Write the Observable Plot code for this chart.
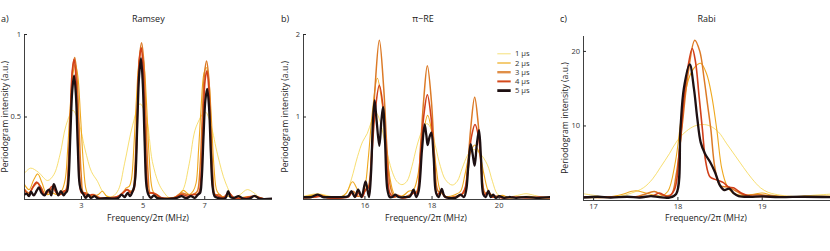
<!DOCTYPE html>
<html><head><meta charset="utf-8">
<script src="https://cdn.jsdelivr.net/npm/d3@7"></script>
<script src="https://cdn.jsdelivr.net/npm/@observablehq/plot@0.6"></script>
<style>
body{margin:0;background:#fff;}
#wrap{position:relative;width:830px;height:251px;font-family:"Open Sans",sans-serif;}
#wrap > svg{position:absolute;top:0;}
</style></head><body><div id="wrap"></div>
<script>
// ---- series labels ----
const seriesLabels = ["1 μs", "2 μs", "3 μs", "4 μs", "5 μs"];

// ---- Panel a: Ramsey  [frequency MHz, intensity a.u.] ----
const ramsey1 = [[1.15,0.16],[1.35,0.19],[1.6,0.165],[1.9,0.115],[2.1,0.15],[2.3,0.27],[2.5,0.45],[2.72,0.54],[2.92,0.46],[3.12,0.3],[3.32,0.17],[3.52,0.11],[3.68,0.05],[3.85,0.02],[4.02,0.02],[4.2,0.06],[4.4,0.22],[4.66,0.45],[4.9,0.58],[5.1,0.5],[5.3,0.23],[5.5,0.1],[5.65,0.05],[5.85,0.01],[6.1,0.01],[6.3,0.06],[6.5,0.22],[6.72,0.44],[7.02,0.53],[7.2,0.45],[7.42,0.27],[7.68,0.1],[7.95,0.01],[8.15,0.03],[8.38,0.06],[8.6,0.04],[8.8,0.01],[9.2,0.005]];
const ramsey2 = [[1.15,0.09],[1.3,0.06],[1.45,0.12],[1.58,0.155],[1.72,0.1],[1.88,0.03],[2.05,0.04],[2.2,0.03],[2.35,0.05],[2.47,0.12],[2.55,0.3],[2.63,0.55],[2.72,0.76],[2.8,0.82],[2.88,0.75],[2.97,0.5],[3.06,0.22],[3.15,0.06],[3.25,0.02],[3.4,0.02],[3.55,0.03],[3.68,0.05],[3.82,0.02],[4.1,0.01],[4.3,0.03],[4.45,0.07],[4.55,0.08],[4.62,0.12],[4.7,0.32],[4.78,0.6],[4.87,0.84],[4.95,0.9],[5.03,0.82],[5.12,0.55],[5.2,0.25],[5.3,0.06],[5.42,0.02],[5.6,0.01],[5.85,0.01],[6.1,0.02],[6.3,0.055],[6.5,0.03],[6.62,0.05],[6.72,0.1],[6.8,0.3],[6.88,0.55],[6.97,0.76],[7.05,0.8],[7.13,0.73],[7.22,0.48],[7.3,0.2],[7.4,0.05],[7.55,0.02],[7.8,0.02],[8.1,0.01],[8.5,0.02],[8.9,0.005],[9.2,0.005]];
const ramsey3 = [[1.15,0.06],[1.3,0.04],[1.45,0.08],[1.57,0.1],[1.7,0.07],[1.82,0.03],[1.95,0.05],[2.1,0.07],[2.25,0.03],[2.4,0.04],[2.5,0.06],[2.57,0.2],[2.64,0.5],[2.71,0.78],[2.78,0.86],[2.85,0.75],[2.92,0.45],[2.99,0.15],[3.06,0.04],[3.15,0.04],[3.27,0.02],[3.4,0.03],[3.6,0.01],[3.9,0.01],[4.2,0.02],[4.38,0.05],[4.48,0.06],[4.6,0.05],[4.67,0.06],[4.74,0.22],[4.81,0.55],[4.88,0.86],[4.95,0.95],[5.02,0.84],[5.09,0.5],[5.16,0.16],[5.23,0.04],[5.32,0.04],[5.45,0.03],[5.6,0.01],[6.0,0.01],[6.25,0.04],[6.42,0.03],[6.6,0.03],[6.72,0.04],[6.78,0.06],[6.85,0.2],[6.92,0.5],[6.99,0.76],[7.06,0.84],[7.13,0.74],[7.2,0.45],[7.27,0.14],[7.34,0.03],[7.47,0.03],[7.62,0.01],[7.78,0.04],[7.95,0.01],[8.3,0.01],[8.6,0.02],[8.9,0.005],[9.2,0.005]];
const ramsey4 = [[1.15,0.06],[1.28,0.03],[1.42,0.075],[1.55,0.105],[1.68,0.07],[1.8,0.03],[1.92,0.05],[2.05,0.08],[2.18,0.04],[2.3,0.03],[2.42,0.05],[2.52,0.06],[2.58,0.18],[2.64,0.5],[2.7,0.78],[2.76,0.85],[2.82,0.74],[2.88,0.42],[2.94,0.12],[3.0,0.04],[3.1,0.04],[3.2,0.02],[3.35,0.03],[3.55,0.01],[3.9,0.01],[4.2,0.02],[4.35,0.04],[4.48,0.06],[4.6,0.04],[4.7,0.06],[4.76,0.2],[4.82,0.55],[4.88,0.85],[4.94,0.92],[5.0,0.8],[5.06,0.45],[5.12,0.13],[5.18,0.04],[5.28,0.04],[5.42,0.03],[5.6,0.01],[6.0,0.01],[6.25,0.03],[6.45,0.02],[6.65,0.03],[6.76,0.03],[6.83,0.05],[6.89,0.18],[6.95,0.48],[7.01,0.72],[7.07,0.78],[7.13,0.68],[7.19,0.38],[7.25,0.1],[7.31,0.03],[7.45,0.02],[7.6,0.01],[7.78,0.04],[7.95,0.01],[8.3,0.01],[8.6,0.02],[8.9,0.005],[9.2,0.005]];
const ramsey5 = [[1.15,0.03],[1.22,0.035],[1.3,0.02],[1.36,0.047],[1.45,0.025],[1.55,0.055],[1.62,0.073],[1.7,0.04],[1.8,0.025],[1.88,0.05],[1.95,0.06],[2.02,0.025],[2.1,0.093],[2.18,0.055],[2.25,0.025],[2.33,0.05],[2.42,0.025],[2.48,0.04],[2.53,0.05],[2.58,0.12],[2.64,0.4],[2.7,0.66],[2.76,0.75],[2.82,0.63],[2.88,0.32],[2.94,0.09],[3.0,0.05],[3.07,0.03],[3.14,0.01],[3.22,0.03],[3.3,0.01],[3.42,0.02],[3.55,0.005],[3.8,0.008],[4.05,0.005],[4.2,0.01],[4.3,0.03],[4.4,0.015],[4.5,0.04],[4.58,0.02],[4.65,0.045],[4.7,0.07],[4.75,0.14],[4.81,0.45],[4.87,0.75],[4.93,0.855],[4.99,0.7],[5.05,0.35],[5.11,0.08],[5.17,0.03],[5.25,0.01],[5.35,0.025],[5.45,0.01],[5.6,0.005],[5.9,0.005],[6.1,0.01],[6.25,0.02],[6.4,0.008],[6.55,0.02],[6.68,0.01],[6.78,0.03],[6.85,0.04],[6.9,0.12],[6.96,0.38],[7.02,0.6],[7.08,0.67],[7.14,0.56],[7.2,0.28],[7.26,0.07],[7.32,0.02],[7.42,0.01],[7.55,0.005],[7.68,0.01],[7.76,0.05],[7.84,0.015],[7.95,0.01],[8.1,0.02],[8.25,0.005],[8.45,0.005],[8.62,0.022],[8.78,0.005],[9.2,0.005]];

// ---- Panel b: pi-RE ----
const piRE1 = [[14.17,0.04],[14.4,0.06],[14.6,0.07],[14.85,0.05],[15.1,0.03],[15.3,0.04],[15.45,0.08],[15.6,0.25],[15.78,0.52],[15.93,0.7],[16.07,0.8],[16.2,0.95],[16.33,1.05],[16.45,0.95],[16.57,0.74],[16.7,0.5],[16.82,0.33],[16.95,0.22],[17.1,0.18],[17.25,0.22],[17.4,0.4],[17.55,0.65],[17.7,0.83],[17.85,0.92],[17.98,0.85],[18.1,0.65],[18.25,0.4],[18.4,0.24],[18.6,0.175],[18.75,0.22],[18.9,0.38],[19.05,0.53],[19.18,0.6],[19.3,0.6],[19.45,0.55],[19.65,0.42],[19.8,0.22],[19.94,0.07],[20.1,0.03],[20.3,0.03],[20.55,0.05],[20.8,0.07],[21.05,0.05],[21.3,0.03],[21.53,0.03]];
const piRE2 = [[14.17,0.03],[14.4,0.05],[14.6,0.06],[14.85,0.04],[15.1,0.02],[15.3,0.03],[15.45,0.08],[15.63,0.215],[15.78,0.12],[15.9,0.05],[16.0,0.15],[16.1,0.5],[16.22,1.05],[16.37,1.47],[16.5,1.2],[16.62,0.7],[16.75,0.25],[16.88,0.06],[17.0,0.04],[17.15,0.05],[17.3,0.1],[17.45,0.12],[17.58,0.3],[17.7,0.7],[17.87,1.02],[18.0,0.8],[18.12,0.4],[18.25,0.1],[18.4,0.04],[18.55,0.04],[18.7,0.06],[18.85,0.1],[18.98,0.3],[19.1,0.52],[19.27,0.66],[19.42,0.55],[19.55,0.3],[19.68,0.1],[19.8,0.05],[19.95,0.04],[20.1,0.05],[20.3,0.02],[20.6,0.03],[20.9,0.04],[21.2,0.02],[21.53,0.02]];
const piRE3 = [[14.17,0.02],[14.5,0.03],[14.7,0.05],[14.9,0.02],[15.3,0.02],[15.5,0.04],[15.65,0.1],[15.78,0.04],[15.9,0.05],[16.0,0.1],[16.1,0.15],[16.2,0.6],[16.3,1.35],[16.43,1.93],[16.56,1.35],[16.66,0.6],[16.76,0.15],[16.88,0.03],[17.0,0.05],[17.15,0.02],[17.3,0.05],[17.45,0.08],[17.55,0.1],[17.65,0.6],[17.75,1.2],[17.86,1.62],[17.98,1.2],[18.08,0.5],[18.18,0.1],[18.3,0.08],[18.42,0.03],[18.6,0.03],[18.8,0.05],[18.95,0.08],[19.05,0.35],[19.15,0.85],[19.27,1.24],[19.38,0.9],[19.48,0.35],[19.58,0.08],[19.7,0.08],[19.82,0.03],[20.0,0.04],[20.2,0.02],[20.6,0.03],[21.0,0.02],[21.53,0.02]];
const piRE4 = [[14.17,0.02],[14.5,0.03],[14.7,0.04],[14.9,0.02],[15.3,0.02],[15.5,0.03],[15.62,0.08],[15.72,0.03],[15.82,0.08],[15.92,0.03],[16.02,0.12],[16.12,0.15],[16.2,0.5],[16.3,1.05],[16.43,1.385],[16.56,1.05],[16.65,0.45],[16.74,0.08],[16.85,0.03],[16.95,0.05],[17.1,0.02],[17.3,0.03],[17.45,0.08],[17.55,0.08],[17.65,0.5],[17.75,1.0],[17.86,1.27],[17.97,1.0],[18.07,0.4],[18.15,0.06],[18.28,0.1],[18.38,0.03],[18.6,0.02],[18.85,0.05],[18.97,0.12],[19.07,0.35],[19.17,0.75],[19.28,0.91],[19.39,0.75],[19.48,0.3],[19.56,0.06],[19.68,0.09],[19.78,0.03],[19.9,0.04],[20.1,0.02],[20.4,0.03],[20.8,0.02],[21.2,0.03],[21.53,0.02]];
const piRE5 = [[14.17,0.03],[14.4,0.03],[14.6,0.06],[14.75,0.03],[15.0,0.03],[15.3,0.03],[15.5,0.04],[15.6,0.1],[15.7,0.03],[15.8,0.12],[15.9,0.03],[16.02,0.22],[16.12,0.03],[16.18,0.3],[16.24,0.95],[16.29,1.2],[16.35,0.95],[16.43,0.65],[16.49,0.95],[16.54,1.12],[16.6,0.7],[16.67,0.12],[16.74,0.03],[16.82,0.03],[16.9,0.06],[17.0,0.03],[17.2,0.03],[17.35,0.04],[17.45,0.12],[17.53,0.03],[17.6,0.1],[17.7,0.6],[17.78,0.91],[17.83,0.78],[17.87,0.66],[17.92,0.75],[17.98,0.81],[18.05,0.5],[18.12,0.08],[18.2,0.03],[18.29,0.13],[18.37,0.04],[18.5,0.02],[18.7,0.02],[18.85,0.06],[18.95,0.03],[19.02,0.12],[19.08,0.4],[19.15,0.67],[19.21,0.55],[19.27,0.41],[19.33,0.65],[19.4,0.84],[19.46,0.5],[19.53,0.06],[19.6,0.03],[19.68,0.105],[19.75,0.03],[19.82,0.06],[19.9,0.02],[20.0,0.04],[20.15,0.02],[20.3,0.03],[20.5,0.02],[20.8,0.03],[21.1,0.02],[21.53,0.03]];

// ---- Panel c: Rabi ----
const rabi1 = [[16.88,0.9],[17.0,0.7],[17.15,0.45],[17.3,0.55],[17.45,1.0],[17.59,1.7],[17.7,2.9],[17.79,4.4],[17.9,6.3],[17.99,8.0],[18.1,9.3],[18.2,10.0],[18.29,10.2],[18.38,10.0],[18.48,9.2],[18.58,7.6],[18.68,6.0],[18.78,4.4],[18.88,2.9],[18.98,1.7],[19.07,1.1],[19.15,0.85],[19.3,0.6],[19.45,0.55],[19.6,0.7],[19.81,0.85]];
const rabi2 = [[16.88,0.4],[17.1,0.4],[17.3,0.7],[17.5,1.3],[17.65,0.9],[17.8,0.6],[17.88,1.2],[17.97,5.2],[18.05,11.9],[18.13,16.4],[18.2,17.9],[18.27,18.4],[18.34,17.0],[18.4,14.1],[18.46,9.6],[18.52,4.3],[18.58,2.0],[18.65,1.0],[18.75,0.7],[18.88,0.8],[19.0,1.0],[19.12,0.7],[19.3,0.5],[19.5,0.6],[19.81,0.6]];
const rabi3 = [[16.88,0.5],[17.1,0.4],[17.3,0.45],[17.5,0.5],[17.6,0.8],[17.72,1.2],[17.82,0.7],[17.92,0.8],[17.98,3.5],[18.05,10.0],[18.12,17.0],[18.2,21.5],[18.26,20.0],[18.31,16.4],[18.35,13.0],[18.39,9.6],[18.44,4.3],[18.5,2.0],[18.6,1.8],[18.7,1.2],[18.8,0.7],[18.95,0.8],[19.1,0.6],[19.4,0.5],[19.81,0.5]];
const rabi4 = [[16.88,0.5],[17.2,0.45],[17.5,0.5],[17.7,0.6],[17.78,1.0],[17.88,0.5],[17.96,1.5],[18.02,7.0],[18.1,16.5],[18.17,20.4],[18.21,18.5],[18.25,14.1],[18.29,9.6],[18.33,5.2],[18.38,3.2],[18.45,2.8],[18.54,2.4],[18.6,1.8],[18.66,1.7],[18.75,1.0],[18.85,0.6],[19.0,0.55],[19.3,0.45],[19.81,0.45]];
const rabi5 = [[16.88,0.4],[17.05,0.5],[17.2,0.4],[17.4,0.5],[17.55,0.4],[17.68,0.6],[17.78,0.45],[17.9,0.4],[17.98,0.9],[18.03,9.6],[18.07,15.0],[18.14,18.25],[18.19,15.0],[18.23,11.0],[18.27,7.8],[18.32,6.3],[18.38,5.2],[18.44,3.8],[18.5,2.0],[18.55,1.4],[18.61,1.6],[18.66,1.0],[18.72,0.6],[18.85,0.5],[19.0,0.55],[19.2,0.45],[19.5,0.5],[19.81,0.45]];

// ---- axis ticks ----
const ramseyXTicks = [3, 5, 7], ramseyYTicks = [0.5, 1];
const piREXTicks = [16, 18, 20], piREYTicks = [1, 2];
const rabiXTicks = [17, 18, 19], rabiYTicks = [10, 20];

// ---- styles (not data) ----
const colors = ["#f5d54c", "#efa81e", "#dc7a26", "#d1401a", "#1e1012"];
const widths = [0.8, 1.1, 1.5, 1.6, 2.3];
const FONT = '"Open Sans", sans-serif';

function panel({series, xDomain, yDomain, xTicks, yTicks, width, ml, mr, mt, mb}) {
  const marks = [];
  series.forEach((s, i) => {
    marks.push(Plot.line(s, {x: d => d[0], y: d => d[1], stroke: colors[i], strokeWidth: widths[i],
      curve: "catmull-rom", clip: true, strokeLinejoin: "round"}));
  });
  marks.push(Plot.ruleY([yDomain[0]], {stroke: "#2a2a2a", strokeWidth: 0.9}));
  marks.push(Plot.ruleX([xDomain[0]], {stroke: "#2a2a2a", strokeWidth: 0.9}));
  marks.push(Plot.axisX(xTicks, {tickSize: -3, tickPadding: 6, label: null, tickFormat: d => String(d), fill: "#333", stroke: "#2a2a2a"}));
  marks.push(Plot.axisY(yTicks, {tickSize: -3, tickPadding: 6.5, label: null, tickFormat: d => String(d), fill: "#333", stroke: "#2a2a2a"}));
  return Plot.plot({
    width, height: 251, marginLeft: ml, marginRight: mr, marginTop: mt, marginBottom: mb,
    style: {background: "transparent", fontFamily: FONT, fontSize: "7.5px", color: "#333", overflow: "visible"},
    x: {domain: xDomain}, y: {domain: yDomain},
    marks
  });
}

const wrap = document.getElementById("wrap");
const pa = panel({series: [ramsey1, ramsey2, ramsey3, ramsey4, ramsey5], xDomain: [1.15, 9.2], yDomain: [0, 1],
  xTicks: ramseyXTicks, yTicks: ramseyYTicks, width: 280, ml: 24, mr: 8, mt: 34, mb: 52});
pa.style.left = "0px"; wrap.appendChild(pa);
const pb = panel({series: [piRE1, piRE2, piRE3, piRE4, piRE5], xDomain: [14.17, 21.53], yDomain: [0, 2],
  xTicks: piREXTicks, yTicks: piREYTicks, width: 280, ml: 23, mr: 10, mt: 34, mb: 52});
pb.style.left = "280px"; wrap.appendChild(pb);
const pc = panel({series: [rabi1, rabi2, rabi3, rabi4, rabi5], xDomain: [16.88, 19.81], yDomain: [0, 22],
  xTicks: rabiXTicks, yTicks: rabiYTicks, width: 270, ml: 23, mr: 0, mt: 36, mb: 51});
pc.style.left = "560px"; wrap.appendChild(pc);

// ---- overlay texts & legend ----
const svg = d3.select(wrap).append("svg").attr("width", 830).attr("height", 251)
  .style("left", "0px").style("font-family", FONT).style("pointer-events", "none");
const txt = (x, y, s, size, anchor = "middle") => svg.append("text").attr("x", x).attr("y", y)
  .attr("font-size", size).attr("text-anchor", anchor).attr("fill", "#222").text(s);

txt(1, 21.5, "a)", "9px", "start");
txt(281, 21.5, "b)", "9px", "start");
txt(560, 21.5, "c)", "9px", "start");
txt(148.3, 21.5, "Ramsey", "9px");
txt(423, 21.5, "π−RE", "9px");
txt(706.7, 21.5, "Rabi", "9px");
[148, 426, 706].forEach(x => txt(x, 220.5, "Frequency/2π  (MHz)", "8.7px"));
[[8.2, 116.7], [288.2, 116.7], [567.5, 118]].forEach(([x, y]) =>
  svg.append("text").attr("transform", `translate(${x},${y}) rotate(-90)`).attr("text-anchor", "middle")
    .attr("font-size", "8.7px").attr("fill", "#222").text("Periodogram intensity (a.u.)"));

const legendWidths = [1, 1.3, 2.4, 2, 2.8];
const legendColors = ["#f5e07a", "#efb02a", "#e08f48", "#d44a1c", "#1e1012"];
seriesLabels.forEach((lab, i) => {
  const y = 53.8 + i * 9.2;
  svg.append("line").attr("x1", 497.3).attr("x2", 510.7).attr("y1", y).attr("y2", y)
    .attr("stroke", legendColors[i]).attr("stroke-width", legendWidths[i]);
  svg.append("text").attr("x", 515).attr("y", y + 2.6).attr("font-size", "7.6px").attr("fill", "#333").text(lab);
});
</script></body></html>
